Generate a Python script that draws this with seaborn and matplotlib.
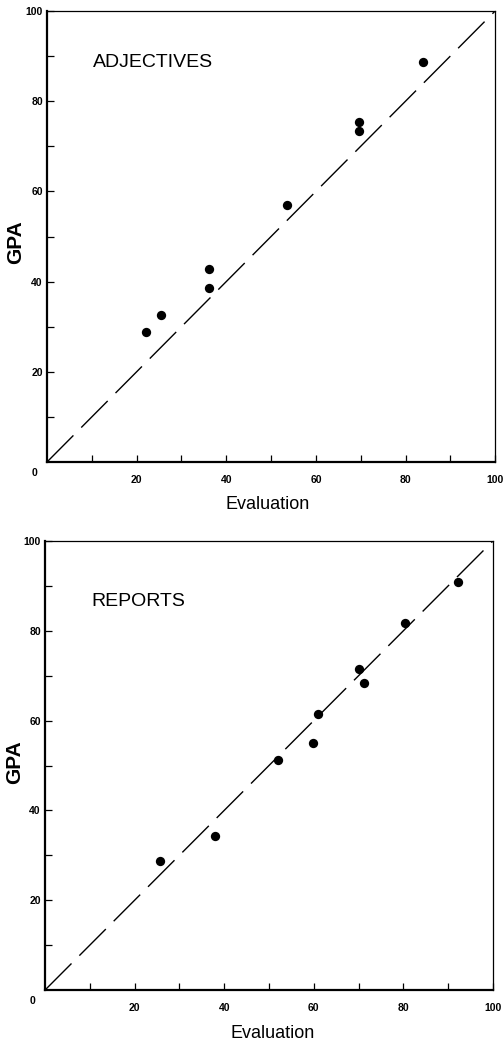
import matplotlib
matplotlib.use("Agg")
import matplotlib.pyplot as plt
import seaborn as sns
import pandas as pd

# values (Evaluation vs GPA)
adj_eval = [22.0, 25.4, 36.2, 36.2, 53.6, 69.6, 69.6, 84.0]
adj_gpa = [28.8, 32.6, 42.8, 38.6, 56.9, 75.3, 73.3, 88.6]

rep_eval = [25.6, 37.9, 52.0, 59.9, 60.9, 70.2, 71.2, 80.4, 92.2]
rep_gpa = [28.8, 34.3, 51.3, 55.0, 61.5, 71.5, 68.4, 81.8, 90.8]

diag = [0, 100]
minor_ticks = [10, 20, 30, 40, 50, 60, 70, 80, 90, 100]
label_ticks = [20, 40, 60, 80, 100]

sns.set_style("ticks", {"axes.edgecolor": "black", "text.color": "black",
                        "xtick.color": "black", "ytick.color": "black",
                        "axes.labelcolor": "black"})
plt.rcParams["font.family"] = ["Liberation Sans", "DejaVu Sans"]
plt.rcParams["lines.scale_dashes"] = False

fig = plt.figure(figsize=(5.03, 10.46), dpi=100)
ax1 = fig.add_axes([0.0934, 0.5583, 0.891, 0.4312])
ax2 = fig.add_axes([0.0895, 0.0535, 0.8905, 0.4293])


def draw_panel(ax, xs, ys, title, title_y, ylab_pos, xlab_pos):
    df = pd.DataFrame({"Evaluation": xs, "GPA": ys})
    sns.lineplot(x=diag, y=diag, ax=ax, color="black", linewidth=1.0)
    ax.lines[-1].set_dashes((27, 8))
    sns.scatterplot(data=df, x="Evaluation", y="GPA", ax=ax, color="black",
                    s=45, linewidth=0, zorder=3)

    ax.set_xlim(0, 100)
    ax.set_ylim(0, 100)
    ax.set_xticks(minor_ticks)
    ax.set_yticks(minor_ticks)
    ax.set_xticklabels([str(t) if t in label_ticks else "" for t in minor_ticks],
                       fontweight="bold", fontsize=7.5)
    ax.set_yticklabels([str(t) if t in label_ticks else "" for t in minor_ticks],
                       fontweight="bold", fontsize=7.5)
    ax.tick_params(axis="x", direction="in", length=5, width=0.9, pad=9)
    ax.tick_params(axis="y", direction="in", length=5, width=0.9, pad=3)

    for side in ["left", "bottom"]:
        ax.spines[side].set_linewidth(1.6)
    for side in ["top", "right"]:
        ax.spines[side].set_linewidth(0.9)

    ax.annotate("0", xy=(0, 0), xytext=(-9, -8), textcoords="offset points",
                ha="center", va="center", fontsize=7.5, fontweight="bold")

    ax.text(10.3, title_y, title, fontsize=14, ha="left", va="center")
    ax.set_xlabel("Evaluation", fontsize=13, va="center")
    ax.set_ylabel("GPA", fontsize=15, fontweight="bold", va="center")
    ax.yaxis.set_label_coords(*ylab_pos)
    ax.xaxis.set_label_coords(*xlab_pos)


draw_panel(ax1, adj_eval, adj_gpa, "ADJECTIVES", 88.5, (-0.069, 0.488), (0.493, -0.095))
draw_panel(ax2, rep_eval, rep_gpa, "REPORTS", 86.5, (-0.067, 0.508), (0.509, -0.096))

fig.savefig("out.png", dpi=100, facecolor="white")
